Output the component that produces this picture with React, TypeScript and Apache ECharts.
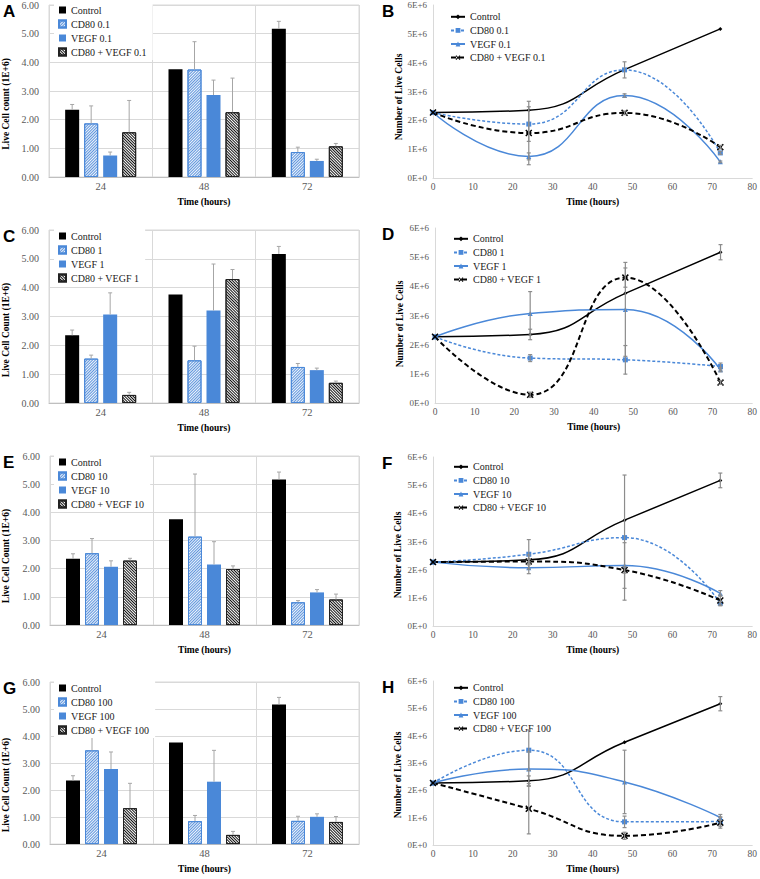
import React, { useEffect, useRef } from 'react';
import * as echarts from 'echarts';

const FONT = 'Liberation Serif';
const SANS = 'Liberation Sans';
const BLUE = '#4a88d8';
const LABEL_GRAY = '#595959';
const GRID_GRAY = '#d9d9d9';

// ---------- data ----------
const barCategories = ['24', '48', '72'];
const lineHours = [0, 24, 48, 72];
const startValue = 2.27; // all groups at 0 h (1E+6 cells)
const barYTickLabels = ['0.00', '1.00', '2.00', '3.00', '4.00', '5.00', '6.00'];
const lineYTickLabels = ['0E+0', '1E+6', '2E+6', '3E+6', '4E+6', '5E+6', '6E+6'];

const controlValues = [2.35, 3.76, 5.17];
const controlErr = [0.18, 0, 0.26];

// dose 0.1
const cd80_01 = [1.87, 3.75, 0.87];
const cd80_01Err = [0.61, 0.97, 0.17];
const vegf_01 = [0.75, 2.86, 0.56];
const vegf_01Err = [0.12, 0.52, 0.06];
const combo_01 = [1.56, 2.26, 1.07];
const combo_01Err = [1.11, 1.19, 0.1];
// error bars as drawn in the line panel B
const lineB_controlErr = [0, 0, 0];
const lineB_cd80Err = [0.6, 0.28, 0.05];
const lineB_vegfErr = [0.12, 0.06, 0.03];
const lineB_comboErr = [1.1, 0.06, 0.06];

// dose 1
const cd80_1 = [1.54, 1.48, 1.25];
const cd80_1Err = [0.12, 0.49, 0.12];
const vegf_1 = [3.07, 3.21, 1.14];
const vegf_1Err = [0.75, 1.61, 0.07];
const combo_1 = [0.28, 4.3, 0.7];
const combo_1Err = [0.09, 0.33, 0.06];

// dose 10
const cd80_10 = [2.55, 3.14, 0.81];
const cd80_10Err = [0.52, 2.22, 0.06];
const vegf_10 = [2.07, 2.15, 1.16];
const vegf_10Err = [0.21, 0.81, 0.1];
const combo_10 = [2.29, 1.99, 0.91];
const combo_10Err = [0.08, 0.11, 0.19];

// dose 100
const cd80_100 = [3.47, 0.85, 0.86];
const cd80_100Err = [0.74, 0.21, 0.17];
const vegf_100 = [2.78, 2.31, 1.01];
const vegf_100Err = [0.63, 1.16, 0.11];
const combo_100 = [1.33, 0.34, 0.82];
const combo_100Err = [0.92, 0.13, 0.2];

// ---------- styling helpers ----------
const BAR_W = 14;
const BAR_GAP_PX = 5;
const GROUP_W = 4 * BAR_W + 3 * BAR_GAP_PX;
const barOffset = (i: number) => -GROUP_W / 2 + BAR_W / 2 + i * (BAR_W + BAR_GAP_PX);

const X_MARK = 'path://M0,1.5L1.5,0L5,3.5L8.5,0L10,1.5L6.5,5L10,8.5L8.5,10L5,6.5L1.5,10L0,8.5L3.5,5Z';

const seriesNames = (dose: string) => ['Control', `CD80 ${dose}`, `VEGF ${dose}`, `CD80 + VEGF ${dose}`];

const barItemStyles = [
  { color: '#000000' },
  {
    color: '#eef4fc',
    borderColor: BLUE,
    borderWidth: 1,
    decal: { symbol: 'rect', symbolSize: 1, dashArrayX: [1, 0], dashArrayY: [0.7, 0.8], rotation: -Math.PI / 4, color: '#5f95dc' },
  },
  { color: BLUE },
  {
    color: '#ffffff',
    borderColor: '#222',
    borderWidth: 1,
    decal: { symbol: 'rect', symbolSize: 1, dashArrayX: [1, 0], dashArrayY: [0.8, 0.7], rotation: Math.PI / 4, color: '#111' },
  },
];

function panelGraphics(letter: string, lx: number, ly: number, title: string, tx: number, ty: number) {
  return [
    {
      type: 'text',
      left: lx,
      top: ly,
      style: { text: letter, font: `bold 17px ${SANS}`, fill: '#000' },
    },
    {
      type: 'text',
      x: tx,
      y: ty,
      rotation: Math.PI / 2,
      style: {
        text: title,
        font: `bold 9.5px ${FONT}`,
        fill: '#000',
        align: 'center',
        verticalAlign: 'middle',
      },
    },
  ];
}

interface BarCfg {
  letter: string;
  dose: string;
  gridLeft: number;
  gridTop: number;
  gridW: number;
  gridH: number;
  legendTop: number;
  yTitle: string;
  titleY: number;
  cd80: number[];
  cd80Err: number[];
  vegf: number[];
  vegfErr: number[];
  combo: number[];
  comboErr: number[];
}

function buildBarOption(c: BarCfg) {
  const names = seriesNames(c.dose);
  const values = [controlValues, c.cd80, c.vegf, c.combo];
  const errs = [controlErr, c.cd80Err, c.vegfErr, c.comboErr];
  const errData: number[][] = [];
  values.forEach((vals, si) => vals.forEach((v, ci) => errData.push([ci, v, errs[si][ci], si])));
  return {
    animation: false,
    textStyle: { fontFamily: FONT },
    grid: {
      left: c.gridLeft,
      top: c.gridTop,
      width: c.gridW,
      height: c.gridH,
      show: true,
      borderColor: GRID_GRAY,
      borderWidth: 1,
      backgroundColor: 'transparent',
    },
    legend: {
      orient: 'vertical',
      left: 54,
      top: c.legendTop,
      itemWidth: 7,
      itemHeight: 7,
      itemGap: 0,
      padding: [1, 6, 1, 4],
      backgroundColor: '#ffffff',
      textStyle: { fontFamily: FONT, fontSize: 10, color: '#1a1a1a', lineHeight: 14 },
      data: names.map((n) => ({ name: n, icon: 'rect' })),
      selectedMode: false,
    },
    xAxis: {
      type: 'category',
      data: barCategories,
      axisLine: { lineStyle: { color: '#bfbfbf' } },
      axisTick: { show: false },
      splitLine: { show: true, lineStyle: { color: GRID_GRAY } },
      axisLabel: { fontFamily: FONT, fontSize: 10.5, color: LABEL_GRAY, margin: 4 },
      name: 'Time (hours)',
      nameLocation: 'middle',
      nameGap: 15,
      nameTextStyle: { fontFamily: FONT, fontSize: 9.5, fontWeight: 'bold', color: '#000' },
    },
    yAxis: {
      type: 'value',
      min: 0,
      max: 6,
      interval: 1,
      axisLine: { show: false },
      axisTick: { show: false },
      splitLine: { show: true, lineStyle: { color: GRID_GRAY } },
      axisLabel: {
        fontFamily: FONT,
        fontSize: 10,
        color: LABEL_GRAY,
        margin: 10,
        formatter: (v: number) => barYTickLabels[Math.round(v)],
      },
    },
    graphic: panelGraphics(c.letter, 3, c.gridTop - 2, c.yTitle, 6, c.titleY),
    series: [
      ...names.map((n, si) => ({
        type: 'bar',
        name: n,
        data: values[si],
        barWidth: BAR_W,
        barGap: `${(BAR_GAP_PX / BAR_W) * 100}%`,
        itemStyle: barItemStyles[si],
        z: 2,
      })),
      {
        type: 'custom',
        name: 'errors',
        data: errData,
        encode: { x: 0, y: 1 },
        z: 3,
        renderItem: (_p: any, api: any) => {
          const ci = api.value(0);
          const v = api.value(1);
          const e = api.value(2);
          const si = api.value(3);
          if (!e) return { type: 'group', children: [] };
          const p0 = api.coord([ci, v]);
          const p1 = api.coord([ci, v + e]);
          const x = p0[0] + barOffset(si);
          const st = { stroke: '#a6a6a6', lineWidth: 1 };
          return {
            type: 'group',
            children: [
              { type: 'line', shape: { x1: x, y1: p0[1], x2: x, y2: p1[1] }, style: st },
              { type: 'line', shape: { x1: x - 2, y1: p1[1], x2: x + 2, y2: p1[1] }, style: st },
            ],
          };
        },
      },
    ],
  };
}

interface LineCfg {
  letter: string;
  dose: string;
  gridLeft: number;
  gridTop: number;
  gridW: number;
  gridH: number;
  legendTop: number;
  legendLeft: number;
  titleX: number;
  titleY: number;
  values: number[][];
  errs: number[][];
}

const lineStyles = [
  { color: '#000', lineStyle: { color: '#000', width: 1.5, type: 'solid' }, symbol: 'diamond', symbolSize: 4 },
  { color: BLUE, lineStyle: { color: BLUE, width: 1.5, type: [3, 2] }, symbol: 'rect', symbolSize: 5 },
  { color: BLUE, lineStyle: { color: BLUE, width: 1.5, type: 'solid' }, symbol: 'triangle', symbolSize: 5 },
  { color: '#000', lineStyle: { color: '#000', width: 2, type: [5, 3] }, symbol: X_MARK, symbolSize: 7 },
];

function buildLineOption(c: LineCfg) {
  const names = seriesNames(c.dose);
  const errData: number[][] = [];
  c.values.forEach((vals, si) =>
    vals.forEach((v, ci) => errData.push([lineHours[ci + 1], v, c.errs[si][ci]]))
  );
  return {
    animation: false,
    textStyle: { fontFamily: FONT },
    grid: { left: c.gridLeft, top: c.gridTop, width: c.gridW, height: c.gridH },
    legend: {
      orient: 'vertical',
      left: c.legendLeft,
      top: c.legendTop,
      itemWidth: 14,
      itemHeight: 6,
      itemGap: 0,
      padding: [1, 2],
      textStyle: { fontFamily: FONT, fontSize: 10, color: '#1a1a1a', lineHeight: 13.6 },
      data: names,
      selectedMode: false,
    },
    xAxis: {
      type: 'value',
      min: 0,
      max: 80,
      interval: 10,
      axisLine: { show: true, onZero: false, lineStyle: { color: GRID_GRAY } },
      axisTick: { show: false },
      splitLine: { show: false },
      axisLabel: { fontFamily: FONT, fontSize: 9.5, color: LABEL_GRAY, margin: 4 },
      name: 'Time (hours)',
      nameLocation: 'middle',
      nameGap: 15,
      nameTextStyle: { fontFamily: FONT, fontSize: 9.5, fontWeight: 'bold', color: '#000' },
    },
    yAxis: {
      type: 'value',
      min: 0,
      max: 6,
      interval: 1,
      axisLine: { show: true, lineStyle: { color: GRID_GRAY } },
      axisTick: { show: false },
      splitLine: { show: false },
      axisLabel: {
        fontFamily: FONT,
        fontSize: 9,
        color: LABEL_GRAY,
        margin: 6,
        formatter: (v: number) => lineYTickLabels[Math.round(v)],
      },
    },
    graphic: panelGraphics(c.letter, 2, c.gridTop - 2, 'Number of Live Cells', c.titleX, c.titleY),
    series: [
      ...names.map((n, si) => ({
        type: 'line',
        name: n,
        data: lineHours.map((h, i) => [h, i === 0 ? startValue : c.values[si][i - 1]]),
        smooth: 0.5,
        symbol: lineStyles[si].symbol,
        symbolSize: lineStyles[si].symbolSize,
        showSymbol: true,
        lineStyle: lineStyles[si].lineStyle,
        itemStyle: { color: lineStyles[si].color },
        z: 2,
      })),
      {
        type: 'custom',
        name: 'errors',
        data: errData,
        encode: { x: 0, y: 1 },
        z: 4,
        renderItem: (_p: any, api: any) => {
          const h = api.value(0);
          const v = api.value(1);
          const e = api.value(2);
          if (!e) return { type: 'group', children: [] };
          const lo = api.coord([h, v - e]);
          const hi = api.coord([h, v + e]);
          const x = lo[0];
          const st = { stroke: '#8c8c8c', lineWidth: 1.2 };
          return {
            type: 'group',
            children: [
              { type: 'line', shape: { x1: x, y1: lo[1], x2: x, y2: hi[1] }, style: st },
              { type: 'line', shape: { x1: x - 2, y1: lo[1], x2: x + 2, y2: lo[1] }, style: st },
              { type: 'line', shape: { x1: x - 2, y1: hi[1], x2: x + 2, y2: hi[1] }, style: st },
            ],
          };
        },
      },
    ],
  };
}

// ---------- panels ----------
const barPanels: { left: number; top: number; height: number; cfg: BarCfg }[] = [
  {
    left: 0, top: 0, height: 220,
    cfg: { letter: 'A', dose: '0.1', gridLeft: 49, gridTop: 5, gridW: 310, gridH: 172, legendTop: 2, yTitle: 'Live Cell count (1E+6)', titleY: 104, cd80: cd80_01, cd80Err: cd80_01Err, vegf: vegf_01, vegfErr: vegf_01Err, combo: combo_01, comboErr: combo_01Err },
  },
  {
    left: 0, top: 220, height: 220,
    cfg: { letter: 'C', dose: '1', gridLeft: 49, gridTop: 10, gridW: 310, gridH: 173, legendTop: 8, yTitle: 'Live Cell Count (1E+6)', titleY: 110, cd80: cd80_1, cd80Err: cd80_1Err, vegf: vegf_1, vegfErr: vegf_1Err, combo: combo_1, comboErr: combo_1Err },
  },
  {
    left: 0, top: 440, height: 220,
    cfg: { letter: 'E', dose: '10', gridLeft: 50, gridTop: 16, gridW: 309, gridH: 173, legendTop: 14, yTitle: 'Live Cell Count (1E+6)', titleY: 116, cd80: cd80_10, cd80Err: cd80_10Err, vegf: vegf_10, vegfErr: vegf_10Err, combo: combo_10, comboErr: combo_10Err },
  },
  {
    left: 0, top: 660, height: 219,
    cfg: { letter: 'G', dose: '100', gridLeft: 50, gridTop: 22, gridW: 309, gridH: 171, legendTop: 20, yTitle: 'Live Cell Count (1E+6)', titleY: 125, cd80: cd80_100, cd80Err: cd80_100Err, vegf: vegf_100, vegfErr: vegf_100Err, combo: combo_100, comboErr: combo_100Err },
  },
];

const linePanels: { left: number; top: number; height: number; cfg: LineCfg }[] = [
  {
    left: 380, top: 0, height: 220,
    cfg: { letter: 'B', dose: '0.1', gridLeft: 53, gridTop: 5, gridW: 320, gridH: 173, legendTop: 9, legendLeft: 68, titleX: 19, titleY: 97,
      values: [controlValues, cd80_01, vegf_01, combo_01], errs: [lineB_controlErr, lineB_cd80Err, lineB_vegfErr, lineB_comboErr] },
  },
  {
    left: 380, top: 220, height: 220,
    cfg: { letter: 'D', dose: '1', gridLeft: 55, gridTop: 8, gridW: 320, gridH: 175, legendTop: 11, legendLeft: 71, titleX: 20, titleY: 104,
      values: [controlValues, cd80_1, vegf_1, combo_1], errs: [controlErr, cd80_1Err, vegf_1Err, combo_1Err] },
  },
  {
    left: 380, top: 440, height: 220,
    cfg: { letter: 'F', dose: '10', gridLeft: 53, gridTop: 17, gridW: 321, gridH: 171, legendTop: 19, legendLeft: 71, titleX: 18, titleY: 115,
      values: [controlValues, cd80_10, vegf_10, combo_10], errs: [controlErr, cd80_10Err, vegf_10Err, combo_10Err] },
  },
  {
    left: 380, top: 660, height: 219,
    cfg: { letter: 'H', dose: '100', gridLeft: 53, gridTop: 21, gridW: 322, gridH: 171, legendTop: 20, legendLeft: 71, titleX: 18, titleY: 115,
      values: [controlValues, cd80_100, vegf_100, combo_100], errs: [controlErr, cd80_100Err, vegf_100Err, combo_100Err] },
  },
];

function Chart({ option, left, top, width, height }: { option: any; left: number; top: number; width: number; height: number }) {
  const ref = useRef<HTMLDivElement>(null);
  useEffect(() => {
    if (!ref.current) return;
    const chart = echarts.init(ref.current, null, { renderer: 'svg' });
    chart.setOption(option);
    return () => chart.dispose();
  }, []);
  return <div ref={ref} style={{ position: 'absolute', left, top, width, height }} />;
}

export default function App() {
  return (
    <div style={{ position: 'absolute', left: 0, top: 0, width: 760, height: 879, background: '#ffffff' }}>
      {barPanels.map((p) => (
        <Chart key={p.cfg.letter} option={buildBarOption(p.cfg)} left={p.left} top={p.top} width={380} height={p.height} />
      ))}
      {linePanels.map((p) => (
        <Chart key={p.cfg.letter} option={buildLineOption(p.cfg)} left={p.left} top={p.top} width={380} height={p.height} />
      ))}
    </div>
  );
}
